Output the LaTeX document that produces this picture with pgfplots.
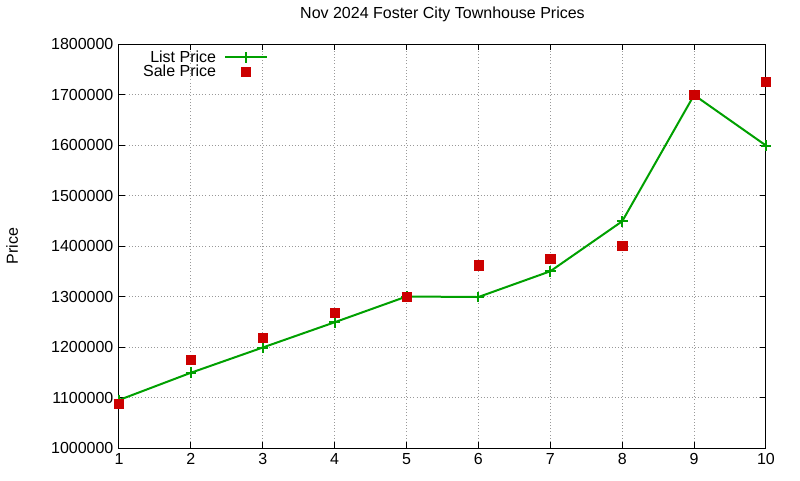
\documentclass[border=0pt]{standalone}
\usepackage{fontspec}
\setmainfont{Liberation Sans}
\usepackage{pgfplots}
\pgfplotsset{compat=1.18}
\definecolor{listgreen}{RGB}{0,160,0}
\definecolor{salered}{RGB}{204,0,0}
\pgfplotsset{longlegend/.style={legend image code/.code={%
  \draw[mark repeat=2, mark phase=2, ##1] plot coordinates {(0pt,0pt) (15.75pt,0pt) (31.5pt,0pt)};}}}

\begin{document}
\begin{tikzpicture}
\fontsize{12}{14}\selectfont
\path[use as bounding box] (-89.25pt,-24pt) rectangle (510.75pt,336pt);
\begin{axis}[
  at={(0,0)}, anchor=south west,
  scale only axis,
  width=485.25pt, height=303pt,
  xmin=1, xmax=10, ymin=1000000, ymax=1800000,
  xtick={1,...,10},
  ytick distance=100000,
  scaled y ticks=false,
  yticklabel style={/pgf/number format/fixed, /pgf/number format/1000 sep={}},
  /pgf/number format/assume math mode=true,
  tick label style={font=\fontsize{12}{14}\selectfont},
  major tick length=4.5pt,
  tick style={black, line width=0.75pt},
  axis line style={line width=0.75pt},
  grid=major,
  major grid style={gray!80, dotted, line width=0.75pt},
  title={Nov 2024 Foster City Townhouse Prices},
  title style={at={(axis description cs:0.5,1)}, anchor=base, yshift=13.5pt, font=\fontsize{12}{14}\selectfont},
  ylabel={Price},
  ylabel style={at={(axis description cs:-0.165,0.5)}, anchor=center, font=\fontsize{12}{14}\selectfont},
  legend style={at={(axis description cs:0.237,0.998)}, anchor=north east, draw=none, fill=none,
    font=\fontsize{12}{14}\selectfont, row sep=-3.5pt, column sep=4pt},
  legend cell align=right,
  legend plot pos=right,
]
\addplot[color=listgreen, line width=1.5pt, mark=+, mark size=4pt, mark options={line width=1.5pt}, longlegend]
  coordinates {(1,1095000) (2,1149000) (3,1199000) (4,1249000) (5,1300000)
               (6,1299000) (7,1350000) (8,1449000) (9,1699000) (10,1599000)};
\addlegendentry{List Price}
\addplot[only marks, color=salered, mark=square*, mark size=3.5pt, longlegend]
  coordinates {(1,1088000) (2,1175000) (3,1218000) (4,1268000) (5,1300000)
               (6,1362000) (7,1375000) (8,1400000) (9,1700000) (10,1725000)};
\addlegendentry{Sale Price}
\end{axis}
\end{tikzpicture}
\end{document}
